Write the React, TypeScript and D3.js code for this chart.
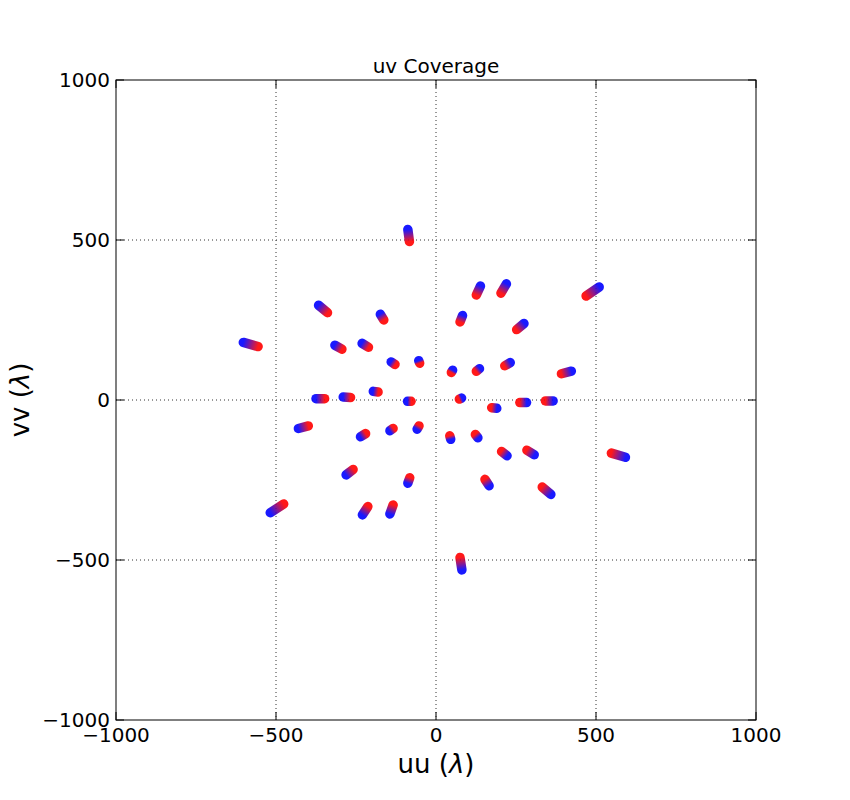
import React from "react";
import * as d3 from "d3";

// track start (red) and end (blue) in (uu, vv), wavelengths
const trackStart: [number, number][] = [
  [-83, 495], [-339, 273], [-163, 250], [-556, 167], [-294, 159], [-211, 165],
  [-128, 111], [-51, 115], [-181, 25], [-348, 4], [-267, 8], [-78, -4],
  [126, 328], [203, 334], [469, 325], [75, 244], [252, 220], [48, 86],
  [126, 90], [215, 107], [392, 82], [73, 3], [174, -24], [262, -8],
  [342, -3], [-399, -81], [-220, -105], [-134, -89], [-53, -81], [43, -112],
  [123, -108], [205, -161], [284, -157], [548, -166], [-259, -217], [-82, -243],
  [153, -248], [332, -272], [-476, -325], [-213, -333], [-134, -328], [75, -492],
];

const trackEnd: [number, number][] = [
  [-88, 533], [-367, 296], [-174, 268], [-602, 180], [-316, 171], [-231, 177],
  [-140, 119], [-54, 123], [-196, 27], [-375, 4], [-290, 9], [-89, -4],
  [139, 356], [220, 363], [510, 353], [83, 264], [275, 239], [52, 93],
  [136, 98], [232, 117], [423, 90], [80, 6], [190, -26], [283, -8],
  [366, -3], [-430, -89], [-236, -115], [-144, -96], [-59, -91], [46, -123],
  [131, -118], [222, -174], [307, -171], [592, -179], [-281, -234], [-88, -260],
  [166, -268], [359, -295], [-518, -352], [-230, -359], [-144, -356], [81, -531],
];

const xTicks = [-1000, -500, 0, 500, 1000];
const yTicks = [-1000, -500, 0, 500, 1000];

const W = 850;
const H = 800;
const margin = { left: 116, right: 94, top: 80, bottom: 80 };
const font = "DejaVu Sans, sans-serif";

const fmt = (d: number) => (d < 0 ? "\u2212" + Math.abs(d) : String(d));

export default function App() {
  const x = d3.scaleLinear().domain([-1000, 1000]).range([margin.left, W - margin.right]);
  const y = d3.scaleLinear().domain([-1000, 1000]).range([H - margin.bottom, margin.top]);
  const [x0, x1] = x.range();
  const [y0, y1] = [y(-1000), y(1000)];
  const tick = 8;

  return (
    <svg width={W} height={H} style={{ display: "block", position: "absolute", left: 0, top: 0 }}>
      <rect width={W} height={H} fill="#fff" />
      <defs>
        {trackStart.map((s, i) => (
          <linearGradient
            key={i}
            id={`trk${i}`}
            gradientUnits="userSpaceOnUse"
            x1={x(s[0])}
            y1={y(s[1])}
            x2={x(trackEnd[i][0])}
            y2={y(trackEnd[i][1])}
          >
            <stop offset="0" stopColor="#ff0000" />
            <stop offset="1" stopColor="#0000ff" />
          </linearGradient>
        ))}
      </defs>

      {/* grid */}
      <g stroke="#333" strokeWidth={1} strokeDasharray="1,3">
        {xTicks.slice(1, -1).map((t) => (
          <line key={"gx" + t} x1={x(t)} x2={x(t)} y1={y1} y2={y0} />
        ))}
        {yTicks.slice(1, -1).map((t) => (
          <line key={"gy" + t} x1={x0} x2={x1} y1={y(t)} y2={y(t)} />
        ))}
      </g>

      {/* tracks */}
      <g strokeLinecap="round" strokeWidth={9.5} strokeOpacity={0.9}>
        {trackStart.map((s, i) => (
          <line
            key={i}
            x1={x(s[0])}
            y1={y(s[1])}
            x2={x(trackEnd[i][0])}
            y2={y(trackEnd[i][1])}
            stroke={`url(#trk${i})`}
          />
        ))}
      </g>

      {/* frame */}
      <rect x={x0} y={y1} width={x1 - x0} height={y0 - y1} fill="none" stroke="#000" strokeWidth={1} />

      {/* ticks */}
      <g stroke="#000" strokeWidth={1}>
        {xTicks.map((t) => (
          <g key={"tx" + t}>
            <line x1={x(t)} x2={x(t)} y1={y0} y2={y0 - tick} />
            <line x1={x(t)} x2={x(t)} y1={y1} y2={y1 + tick} />
          </g>
        ))}
        {yTicks.map((t) => (
          <g key={"ty" + t}>
            <line x1={x0} x2={x0 + tick} y1={y(t)} y2={y(t)} />
            <line x1={x1} x2={x1 - tick} y1={y(t)} y2={y(t)} />
          </g>
        ))}
      </g>

      {/* tick labels */}
      <g fontFamily={font} fontSize={20} fill="#000">
        {xTicks.map((t) => (
          <text key={"lx" + t} x={x(t)} y={y0 + 22} textAnchor="middle">
            {fmt(t)}
          </text>
        ))}
        {yTicks.map((t) => (
          <text key={"ly" + t} x={x0 - 6} y={y(t)} dy="0.36em" textAnchor="end">
            {fmt(t)}
          </text>
        ))}
      </g>

      {/* title and axis labels */}
      <text x={(x0 + x1) / 2} y={y1 - 7} textAnchor="middle" fontFamily={font} fontSize={20}>
        uv Coverage
      </text>
      <text x={(x0 + x1) / 2} y={H - 27} textAnchor="middle" fontFamily={font} fontSize={26}>
        uu (<tspan fontStyle="italic">λ</tspan>)
      </text>
      <text
        transform={`translate(29,${(y0 + y1) / 2}) rotate(-90)`}
        textAnchor="middle"
        fontFamily={font}
        fontSize={26}
      >
        vv (<tspan fontStyle="italic">λ</tspan>)
      </text>
    </svg>
  );
}
